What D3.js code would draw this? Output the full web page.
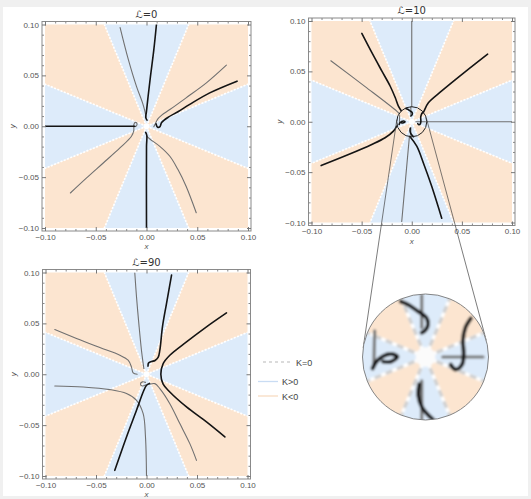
<!DOCTYPE html>
<html>
<head>
<meta charset="utf-8">
<script src="https://cdn.jsdelivr.net/npm/d3@7"></script>
<style>
  body { margin: 0; background: #f0f0f0; }
  svg { display: block; font-family: "Liberation Sans", Arial, sans-serif; }
</style>
</head>
<body>
<svg id="chart" width="531" height="499"></svg>
<script>
// ---- data ----
const tickValues = [-0.10, -0.05, 0.00, 0.05, 0.10];
const minorTicks = [-0.09,-0.08,-0.07,-0.06,-0.04,-0.03,-0.02,-0.01,0.01,0.02,0.03,0.04,0.06,0.07,0.08,0.09];
const panelTitles = ["ℒ=0", "ℒ=10", "ℒ=90"];
const sectorSigns = ["K>0","K<0","K>0","K<0","K>0","K<0","K>0","K<0"]; // 8 wedges, first one centred on +y
const legendLabels = ["K=0", "K>0", "K<0"];
const lensRadius = 0.015;

// L = 0
const l0BlackUp    = [[0.0098,0.1],[0.0072,0.075],[0.0039,0.049],[0.0016,0.0295],[0.0,0.0148],[-0.0007,0.0085],[0.0005,0.006]];
const l0GrayUp     = [[-0.026,0.097],[-0.018,0.066],[-0.0098,0.039],[-0.0039,0.023],[-0.0016,0.0148],[-0.0005,0.009]];
const l0BlackLeft  = [[-0.1,0],[-0.05,0],[-0.0115,0]];
const l0GrayLeft   = [[-0.075,-0.0656],[-0.059,-0.0508],[-0.0426,-0.0361],[-0.0262,-0.0213],[-0.0148,-0.0098],[-0.0125,-0.004],[-0.0125,0.0015],[-0.011,0.0038],[-0.0095,0.003],[-0.0098,0.0005],[-0.0115,-0.0005]];
const l0BlackDown  = [[-0.0008,-0.006],[0.0003,-0.009],[0,-0.02],[0,-0.1]];
const l0GrayDown   = [[0.0,-0.0095],[0.0033,-0.0125],[0.0131,-0.0197],[0.023,-0.0295],[0.031,-0.0426],[0.039,-0.059],[0.049,-0.085]];
const l0BlackRight = [[0.0094,0.0023],[0.011,-0.001],[0.0133,-0.0003],[0.0149,0.0036],[0.0215,0.0089],[0.0314,0.0145],[0.0426,0.0215],[0.0623,0.0328],[0.0892,0.0443]];
const l0GrayRight  = [[0.0072,-0.0005],[0.009,0.003],[0.011,0.007],[0.015,0.011],[0.023,0.0164],[0.039,0.0279],[0.059,0.0426],[0.0787,0.06]];

// L = 10
const l10GrayUp     = [[0,0.1],[0,0.015]];
const l10GrayRight  = [[0.015,0],[0.1,0]];
const l10BlackUL    = [[-0.0498,0.0877],[-0.0399,0.0688],[-0.0299,0.0505],[-0.0216,0.0355],[-0.0165,0.024],[-0.0133,0.0155],[-0.0105,0.011]];
const l10GrayUL     = [[-0.0807,0.0605],[-0.0465,0.0349],[-0.015,0.0106],[-0.0125,0.008]];
const l10BlackUR    = [[0.0757,0.0671],[0.0532,0.0495],[0.0299,0.0306],[0.0166,0.0189],[0.0126,0.0113],[0.0115,0.009]];
const l10BlackLL    = [[-0.0904,-0.0435],[-0.0631,-0.0326],[-0.0399,-0.0226],[-0.0266,-0.0159],[-0.0183,-0.0093],[-0.015,-0.0043]];
const l10BlackDown  = [[-0.0017,-0.015],[0.005,-0.0243],[0.0116,-0.0409],[0.0199,-0.0641],[0.0299,-0.0957]];
const l10GrayDown   = [[-0.01,-0.099],[-0.0023,-0.0143]];

// inside the lens (L = 10, near origin)
const lensGrayTop     = [[-0.0009,0.0147],[-0.0009,0.007]];
const lensBlackTop    = [[-0.0059,0.0132],[-0.004,0.0124],[-0.0017,0.0108],[0.0002,0.0094],[0.0006,0.0077],[-0.0002,0.0062],[-0.0009,0.0058]];
const lensGrayRight   = [[0.0041,0],[0.0137,0]];
const lensBlackRight  = [[0.0108,0.0092],[0.0095,0.007],[0.0089,0.0039],[0.0091,0.0008],[0.0087,-0.0018],[0.0072,-0.003],[0.006,-0.0018]];
const lensGrayLeft    = [[-0.0121,0.0062],[-0.0123,-0.0022]];
const lensBlackLeft   = [[-0.0126,-0.0027],[-0.0117,-0.0011],[-0.0101,0.0002],[-0.0082,0.0007],[-0.0067,0.0001],[-0.0082,-0.0011],[-0.0101,-0.0011]];
const lensGrayBottom  = [[-0.0009,-0.0057],[-0.0009,-0.0149]];
const lensBlackBottom = [[-0.0015,-0.0065],[-0.0017,-0.0092],[-0.0009,-0.0118],[0.0006,-0.0138],[0.0018,-0.0149]];

// L = 90
const l90GrayUp      = [[-0.0116,0.0997],[-0.0099,0.0761],[-0.0073,0.0466],[-0.005,0.0236],[-0.0033,0.0105],[-0.0026,0.0056]];
const l90BlackUp     = [[0.0248,0.0974],[0.0198,0.0695],[0.0158,0.0466],[0.0132,0.0236],[0.0115,0.0165],[0.0085,0.0135],[0.005,0.0125],[0.002,0.011],[0.0015,0.008]];
const l90BlackRight  = [[0.0792,0.0603],[0.0594,0.0466],[0.0396,0.0318],[0.0231,0.0187],[0.0165,0.0105],[0.0142,0],[0.0165,-0.0098],[0.0231,-0.0174],[0.0396,-0.0321],[0.0594,-0.0469],[0.0776,-0.0616]];
const l90GrayLeft    = [[-0.0908,0.0439],[-0.0693,0.0351],[-0.0462,0.0262],[-0.0264,0.0187],[-0.0182,0.0138],[-0.0149,0.0072],[-0.0132,0.0013],[-0.0092,0]];
const l90GrayLowLeft = [[-0.0908,-0.0115],[-0.0627,-0.0125],[-0.0363,-0.0151],[-0.0198,-0.019],[-0.0099,-0.0256],[-0.0033,-0.0387],[-0.001,-0.0616],[0,-0.1]];
const l90BlackDown   = [[-0.0314,-0.0944],[-0.0198,-0.0616],[-0.0099,-0.0354],[-0.0033,-0.0174],[0,-0.0108],[0.003,-0.009]];
const l90GrayDown    = [[0.0033,-0.0098],[0.0083,-0.0092],[0.0132,-0.0141],[0.0231,-0.0289],[0.033,-0.0485],[0.0429,-0.0682],[0.0495,-0.0846]];
const l90GrayLoop    = [[-0.001,-0.008],[-0.004,-0.0075],[-0.006,-0.0095],[-0.004,-0.0115],[-0.001,-0.0105]];

const lensCurves = [
  {pts: lensGrayTop, k: "g"}, {pts: lensBlackTop, k: "b"},
  {pts: lensGrayRight, k: "g"}, {pts: lensBlackRight, k: "b"},
  {pts: lensGrayLeft, k: "g"}, {pts: lensBlackLeft, k: "b"},
  {pts: lensGrayBottom, k: "g"}, {pts: lensBlackBottom, k: "b"}
];

// ---- drawing ----
const fills = {"K>0": "#ddebfa", "K<0": "#fce5d0"};
const ink = {b: "#141414", g: "#707070"};
const svg = d3.select("#chart");
svg.append("rect").attr("x", 3).attr("y", 7).attr("width", 525).attr("height", 489).attr("fill", "#fff");

const defs = svg.append("defs");
defs.append("filter").attr("id", "soft").attr("x", "-10%").attr("y", "-10%").attr("width", "120%").attr("height", "120%")
  .append("feGaussianBlur").attr("stdDeviation", 1.3);

const pie = d3.pie().value(1).sort(null).startAngle(-Math.PI / 8).endAngle(2 * Math.PI - Math.PI / 8);
const wedges = pie(sectorSigns);

const panels = [
  {title: panelTitles[0], px: [45, 248], py: [228, 24.5],
   curves: [{pts:l0GrayUp,k:"g"},{pts:l0GrayLeft,k:"g"},{pts:l0GrayDown,k:"g"},{pts:l0GrayRight,k:"g"},
            {pts:l0BlackUp,k:"b"},{pts:l0BlackLeft,k:"b"},{pts:l0BlackDown,k:"b"},{pts:l0BlackRight,k:"b"}]},
  {title: panelTitles[1], px: [311.5, 512], py: [222.5, 21], lens: true,
   curves: [{pts:l10GrayUp,k:"g"},{pts:l10GrayRight,k:"g"},{pts:l10GrayUL,k:"g"},{pts:l10GrayDown,k:"g"},
            {pts:l10BlackUL,k:"b"},{pts:l10BlackUR,k:"b"},{pts:l10BlackLL,k:"b"},{pts:l10BlackDown,k:"b"}].concat(lensCurves)},
  {title: panelTitles[2], px: [45.5, 247.5], py: [476, 272.5],
   curves: [{pts:l90GrayUp,k:"g"},{pts:l90GrayLeft,k:"g"},{pts:l90GrayLowLeft,k:"g"},{pts:l90GrayDown,k:"g"},{pts:l90GrayLoop,k:"g"},
            {pts:l90BlackUp,k:"b"},{pts:l90BlackRight,k:"b"},{pts:l90BlackDown,k:"b"}]}
];

function drawWedges(g, R, dashColor, dashW, dash, gap) {
  const arc = d3.arc().innerRadius(0).outerRadius(R);
  g.selectAll("path.w").data(wedges).join("path").attr("class", "w")
    .attr("d", arc).attr("fill", d => fills[d.data]);
  if (gap) {
    g.selectAll("line.gap").data(wedges).join("line").attr("class", "gap")
      .attr("x2", d => R * Math.sin(d.startAngle)).attr("y2", d => -R * Math.cos(d.startAngle))
      .attr("stroke", "#fff").attr("stroke-width", dashW);
  }
  g.selectAll("line.k0").data(wedges).join("line").attr("class", "k0")
    .attr("x2", d => R * Math.sin(d.startAngle)).attr("y2", d => -R * Math.cos(d.startAngle))
    .attr("stroke", dashColor).attr("stroke-width", dashW).attr("stroke-dasharray", dash);
}

let lensCentre = null;

panels.forEach((p, i) => {
  const x = d3.scaleLinear().domain([-0.1, 0.1]).range(p.px);
  const y = d3.scaleLinear().domain([-0.1, 0.1]).range(p.py);
  const g = svg.append("g");
  const pad = 3;
  const fx0 = p.px[0] - pad, fx1 = p.px[1] + pad, fy0 = p.py[1] - pad, fy1 = p.py[0] + pad;

  defs.append("clipPath").attr("id", "clip" + i).append("rect")
    .attr("x", p.px[0]).attr("y", p.py[1]).attr("width", p.px[1] - p.px[0]).attr("height", p.py[0] - p.py[1]);
  const plot = g.append("g").attr("clip-path", `url(#clip${i})`);

  const centre = plot.append("g").attr("transform", `translate(${x(0)},${y(0)})`);
  drawWedges(centre, 200, "#ffffff", 1.7, "2,1.5", false);
  centre.append("circle").attr("r", 3).attr("fill", "#fff");

  const line = d3.line().x(d => x(d[0])).y(d => y(d[1])).curve(d3.curveCatmullRom);
  plot.selectAll("path.c").data(p.curves).join("path").attr("class", "c")
    .attr("d", d => line(d.pts)).attr("fill", "none")
    .attr("stroke", d => ink[d.k]).attr("stroke-width", d => d.k === "b" ? 1.6 : 1.1)
    .attr("stroke-linejoin", "round").attr("stroke-linecap", "round");

  if (p.lens) {
    const r1 = x(lensRadius) - x(0);
    plot.append("circle").attr("cx", x(0)).attr("cy", y(0)).attr("r", r1)
      .attr("fill", "none").attr("stroke", "#222").attr("stroke-width", 1);
    lensCentre = {cx: x(0), cy: y(0), r: r1};
  }

  // frame
  g.append("rect").attr("x", fx0).attr("y", fy0).attr("width", fx1 - fx0).attr("height", fy1 - fy0)
    .attr("fill", "none").attr("stroke", "#8a8a8a").attr("stroke-width", 1);

  const fmt = d3.format(".2f");
  const axes = [
    {ax: d3.axisBottom(x), t: `translate(0,${fy1})`, lab: true},
    {ax: d3.axisTop(x), t: `translate(0,${fy0})`, lab: false},
    {ax: d3.axisLeft(y), t: `translate(${fx0},0)`, lab: true},
    {ax: d3.axisRight(y), t: `translate(${fx1},0)`, lab: false}
  ];
  axes.forEach(a => {
    const major = g.append("g").attr("transform", a.t)
      .call(a.ax.tickValues(tickValues).tickSize(-4).tickPadding(3).tickFormat(a.lab ? fmt : ""));
    major.select(".domain").remove();
    major.selectAll("line").attr("stroke", "#777");
    major.selectAll("text").attr("fill", "#555").attr("font-size", 8);
    const minor = g.append("g").attr("transform", a.t)
      .call(a.ax.tickValues(minorTicks).tickSize(-2).tickFormat(""));
    minor.select(".domain").remove();
    minor.selectAll("line").attr("stroke", "#888");
  });

  g.append("text").attr("x", (p.px[0] + p.px[1]) / 2).attr("y", fy0 - 4).attr("text-anchor", "middle")
    .attr("font-size", 10).attr("fill", "#333").attr("font-family", "DejaVu Sans, sans-serif").text(p.title);
  g.append("text").attr("x", (p.px[0] + p.px[1]) / 2).attr("y", fy1 + 18).attr("text-anchor", "middle")
    .attr("font-size", 8).attr("font-style", "italic").attr("fill", "#555").text("x");
  g.append("text").attr("transform", `translate(${fx0 - 27},${(fy0 + fy1) / 2}) rotate(-90)`).attr("text-anchor", "middle")
    .attr("font-size", 8).attr("font-style", "italic").attr("fill", "#555").text("y");
});

// ---- magnified lens ----
const big = {cx: 425.5, cy: 357, r: 63};
{
  const c1 = lensCentre, dx = big.cx - c1.cx, dy = big.cy - c1.cy, D = Math.hypot(dx, dy);
  const base = Math.atan2(dy, dx), th = Math.acos((c1.r - big.r) / D);
  [base + th, base - th].forEach(a => {
    svg.append("line")
      .attr("x1", c1.cx + c1.r * Math.cos(a)).attr("y1", c1.cy + c1.r * Math.sin(a))
      .attr("x2", big.cx + big.r * Math.cos(a)).attr("y2", big.cy + big.r * Math.sin(a))
      .attr("stroke", "#444").attr("stroke-width", 0.7);
  });
}
defs.append("clipPath").attr("id", "lensclip").append("circle").attr("r", big.r);
const lens = svg.append("g").attr("transform", `translate(${big.cx},${big.cy})`);
lens.append("circle").attr("r", big.r).attr("fill", "#fff");
const lensInner = lens.append("g").attr("clip-path", "url(#lensclip)").append("g").attr("filter", "url(#soft)");
drawWedges(lensInner, big.r + 10, "#cfcfcf", 3.2, "7,5", true);
lensInner.append("circle").attr("r", 10).attr("fill", "#fbfbfb");
const mx = d3.scaleLinear().domain([-lensRadius, lensRadius]).range([-big.r, big.r]);
const my = d3.scaleLinear().domain([-lensRadius, lensRadius]).range([big.r, -big.r]);
const mline = d3.line().x(d => mx(d[0])).y(d => my(d[1])).curve(d3.curveCatmullRom);
lensInner.selectAll("path.c").data(lensCurves).join("path").attr("class", "c")
  .attr("d", d => mline(d.pts)).attr("fill", "none")
  .attr("stroke", d => d.k === "b" ? "#111" : "#777").attr("stroke-width", d => d.k === "b" ? 4 : 3.2)
  .attr("stroke-linecap", "round").attr("stroke-linejoin", "round");
lens.append("circle").attr("r", big.r).attr("fill", "none").attr("stroke", "#777").attr("stroke-width", 0.9);

// ---- legend ----
const legendStyle = [
  {x1: 263, x2: 290, tx: 296, y: 362, stroke: "#d0d0d0", dash: "3,3"},
  {x1: 258, x2: 278, tx: 282, y: 381.5, stroke: "#c9dcf3", dash: null},
  {x1: 258, x2: 278, tx: 282, y: 396, stroke: "#f8dcc2", dash: null}
];
const leg = svg.append("g");
leg.selectAll("line").data(legendLabels).join("line")
  .attr("x1", (d, i) => legendStyle[i].x1).attr("x2", (d, i) => legendStyle[i].x2)
  .attr("y1", (d, i) => legendStyle[i].y).attr("y2", (d, i) => legendStyle[i].y)
  .attr("stroke", (d, i) => legendStyle[i].stroke).attr("stroke-width", 1.3)
  .attr("stroke-dasharray", (d, i) => legendStyle[i].dash);
leg.selectAll("text").data(legendLabels).join("text")
  .attr("x", (d, i) => legendStyle[i].tx).attr("y", (d, i) => legendStyle[i].y + 3.5)
  .attr("font-size", 9).attr("fill", "#444").text(d => d);
</script>
</body>
</html>
